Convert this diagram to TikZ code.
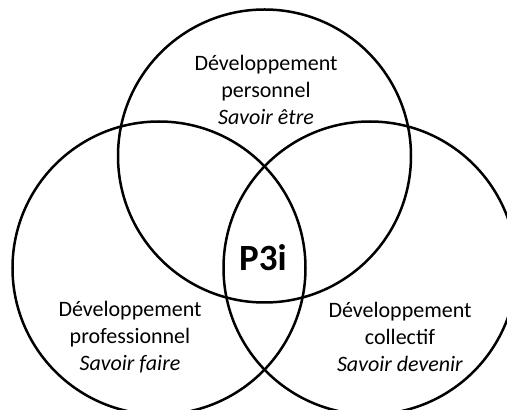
\documentclass[tikz,border=0pt]{standalone}
\usepackage{fontspec}
\setmainfont{Carlito}
\usetikzlibrary{positioning}

\begin{document}
\begin{tikzpicture}[x=1pt, y=1pt,
  ring/.style={circle, draw=black, line width=2.5pt, minimum size=293pt, inner sep=0pt},
  ringtext/.style={align=center, font=\fontsize{22}{27}\selectfont},
  core/.style={font=\fontsize{37}{40}\selectfont\bfseries}
]
\useasboundingbox (0,0) rectangle (507,410);

% --- Cercles ---
\node[ring] (perso)  at (264.5,254) {};
\node[ring] (profes) at (159,142) {};
\node[ring] (collec) at (370,142) {};

% --- Textes ---
\node[ringtext] (persotext)  at (266,320) {Développement\\personnel\\\textit{Savoir être}};
\node[ringtext] (profestext) at (130,73)  {Développement\\professionnel\\\textit{Savoir faire}};
\node[ringtext] (collectext) at (400,73)  {Développement\\collectif\\\textit{Savoir devenir}};

% Centre
\node[core] (p3i) at (263,152) {P3i};
\end{tikzpicture}
\end{document}
